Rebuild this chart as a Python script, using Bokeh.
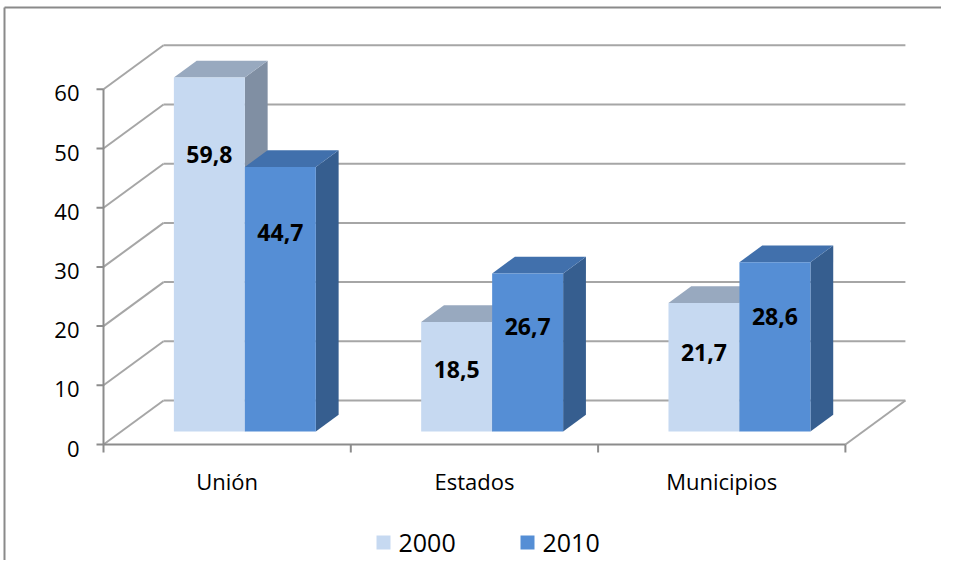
from bokeh.plotting import figure
from bokeh.models import Range1d
from bokeh.embed import file_html
from bokeh.resources import INLINE
from bokeh.core.properties import value

# ---------------- data ----------------
categories = ["Unión", "Estados", "Municipios"]
series_names = ["2000", "2010"]
values_2000 = [59.8, 18.5, 21.7]
values_2010 = [44.7, 26.7, 28.6]
y_ticks = [0, 10, 20, 30, 40, 50, 60]
y_tick_labels = ["0", "10", "20", "30", "40", "50", "60"]

# ---------------- styling / geometry ----------------
FONT = value("Open Sans")
W, H = 941, 560
PX_X = 247.3           # px per category
PX_Y = 5.92            # px per value unit
ORIGIN = (103, 444)    # canvas px of front-left floor corner


def ux(px):
    return -0.5 + (px - ORIGIN[0]) / PX_X


def uy(py):
    return (ORIGIN[1] - py) / PX_Y


x_start, x_end = ux(0), ux(W)
y_start, y_end = uy(H), uy(0)

DX, DY = 60 / PX_X, 44 / PX_Y      # full depth of the floor
FRONT = 0.295                       # depth of bar front face
DEPTH = 0.38                        # bar depth fraction
BAR_W = 0.287

colors = {
    "2000": dict(front="#C6D9F1", top="#98A9BF", side="#808FA3"),
    "2010": dict(front="#558ED5", top="#4170AC", side="#365E8F"),
}
GRID = "#A6A6A6"
AXIS = "#8C8C8C"

p = figure(width=W, height=H, output_backend="svg", toolbar_location=None,
           x_range=Range1d(x_start, x_end), y_range=Range1d(y_start, y_end),
           min_border=0, outline_line_color=None)
p.axis.visible = False
p.grid.visible = False
p.background_fill_color = "white"
p.border_fill_color = "white"

x_left, x_right = -0.5, len(categories) - 0.5
ymax = max(y_ticks)

# back wall gridlines
p.multi_line(xs=[[x_left + DX, x_right + DX] for _ in y_ticks],
             ys=[[t + DY, t + DY] for t in y_ticks], line_color=GRID, line_width=2)
# left wall gridlines
p.multi_line(xs=[[x_left, x_left + DX] for _ in y_ticks],
             ys=[[t, t + DY] for t in y_ticks], line_color=GRID, line_width=2)
# floor right edge
p.line([x_right, x_right + DX], [0, DY], line_color=GRID, line_width=2)

# front axes
p.line([x_left, x_left], [0, ymax], line_color=AXIS, line_width=2)
p.line([x_left, x_right], [0, 0], line_color=AXIS, line_width=2)
tick_len_x = 7 / PX_X
p.multi_line(xs=[[x_left - tick_len_x, x_left] for _ in y_ticks],
             ys=[[t, t] for t in y_ticks], line_color=AXIS, line_width=2)
tick_len_y = 8 / PX_Y
bounds = [x_left + i for i in range(len(categories) + 1)]
p.multi_line(xs=[[b, b] for b in bounds],
             ys=[[0, -tick_len_y] for _ in bounds], line_color=AXIS, line_width=2)

# y tick labels
p.text(x=[x_left - 24 / PX_X] * len(y_ticks), y=y_ticks, text=y_tick_labels,
       text_font=FONT, text_font_size="22px", text_align="right",
       text_baseline="middle", y_offset=4, text_color="#000000")
# category labels
p.text(x=list(range(len(categories))), y=[0] * len(categories), text=categories,
       text_font=FONT, text_font_size="22px", text_align="center",
       text_baseline="middle", y_offset=36, text_color="#000000")

# bars
fx, fy = FRONT * DX, FRONT * DY
dx, dy = DEPTH * DX, DEPTH * DY
label_x, label_y, label_t = [], [], []
for ci, cat in enumerate(categories):
    for si, (name, vals) in enumerate(zip(series_names, [values_2000, values_2010])):
        v = vals[ci]
        c = colors[name]
        x0 = ci - BAR_W + si * BAR_W + fx
        x1 = x0 + BAR_W
        y0 = fy
        y1 = v + fy
        # side face
        p.patch([x1, x1, x1 + dx, x1 + dx], [y0, y1, y1 + dy, y0 + dy],
                fill_color=c["side"], line_color=None)
        # top face
        p.patch([x0, x1, x1 + dx, x0 + dx], [y1, y1, y1 + dy, y1 + dy],
                fill_color=c["top"], line_color=None)
        # front face
        p.quad(left=x0, right=x1, bottom=y0, top=y1,
               fill_color=c["front"], line_color=None)
        label_x.append((x0 + x1) / 2)
        label_y.append(y0 + 0.88 * v - 5.8)
        label_t.append(f"{v:.1f}".replace(".", ","))

p.text(x=label_x, y=label_y, text=label_t, text_font=FONT, text_font_size="23px",
       text_font_style="bold", text_align="center", text_baseline="middle",
       text_color="#000000")

# legend
leg_y = uy(542)
leg_sq_x = [ux(383), ux(527)]
p.scatter(x=leg_sq_x, y=[leg_y, leg_y], marker="square", size=14,
          fill_color=[colors[n]["front"] for n in series_names], line_color=None)
p.text(x=[x + 15 / PX_X for x in leg_sq_x], y=[leg_y, leg_y], text=series_names,
       text_font=FONT, text_font_size="25px", text_align="left",
       text_baseline="middle", y_offset=0, text_color="#000000")

# outer border (top and left; the rest lies outside the picture)
p.line([ux(4), x_end], [uy(7), uy(7)], line_color="#8A8A8A", line_width=2)
p.line([ux(4), ux(4)], [y_start, uy(7)], line_color="#8A8A8A", line_width=2)

open("out.html", "w").write(file_html(p, INLINE))
